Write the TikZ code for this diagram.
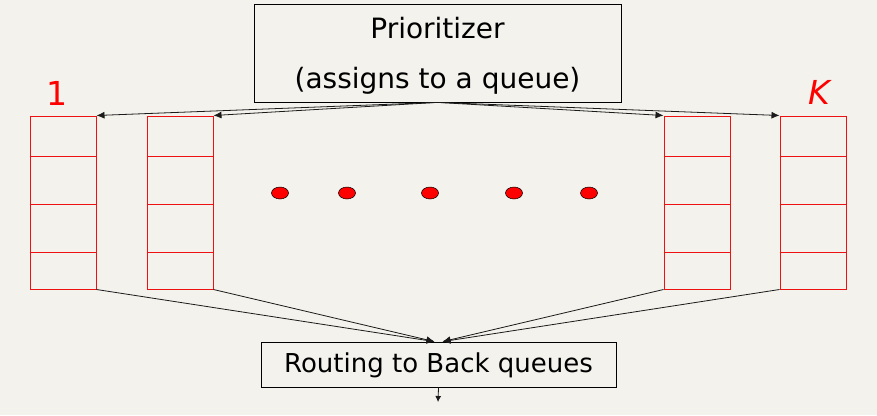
\documentclass[tikz,border=0pt]{standalone}
\usepackage{fontspec}
\setmainfont{DejaVu Sans}
\usetikzlibrary{arrows.meta,shapes.geometric}
\definecolor{paper}{HTML}{F3F2EC}
\definecolor{qred}{HTML}{EE1111}
\definecolor{ink}{HTML}{1A1A1A}
\tikzset{
  textbox/.style={draw=black,line width=0.8pt,inner sep=0pt,align=center},
  queuebox/.style={draw=qred,line width=1pt,minimum width=66pt,minimum height=173pt,inner sep=0pt},
  cellline/.style={draw=qred,line width=1pt},
  qdot/.style={ellipse,draw=black,fill=red,line width=0.5pt,minimum width=17pt,minimum height=12pt,inner sep=0pt},
  qlabel/.style={text=red,font=\fontsize{33}{33}\selectfont,anchor=base,inner sep=0pt},
  feedarrow/.style={-{Latex[length=8pt,width=7pt]},line width=0.8pt,draw=ink}
}
\begin{document}
\begin{tikzpicture}[x=1pt,y=-1pt]
\fill[paper] (0,0) rectangle (877,415);
\useasboundingbox (0,0) rectangle (877,415);
\node[textbox,minimum width=367pt,minimum height=98pt,font=\fontsize{28}{34}\selectfont] (prio) at (437.5,53) {\rule{0pt}{27pt}Prioritizer\\[16pt](assigns to a queue)};
\node[textbox,minimum width=355pt,minimum height=45pt,font=\fontsize{26}{32}\selectfont] (route) at (438.5,364.5) {\rule{0pt}{22pt}Routing to Back queues};
% the queues
\node[queuebox] (q1) at (63,202.5) {};
\node[queuebox] (q2) at (180,202.5) {};
\node[queuebox] (q3) at (697,202.5) {};
\node[queuebox] (qk) at (813,202.5) {};
\foreach \q in {q1,q2,q3,qk}
  \foreach \d in {41,89,137}
    \draw[cellline] ([yshift=-\d pt]\q.north west) -- ([yshift=-\d pt]\q.north east);
\node[qlabel] (lab1) at (57,105) {1};
\node[qlabel] (labk) at (819,104) {\itshape K};
\node[qdot] (d1) at (280,193) {};
\node[qdot] (d2) at (347,193) {};
\node[qdot] (d3) at (430,193) {};
\node[qdot] (d4) at (514,193) {};
\node[qdot] (d5) at (589,193) {};
% in and out
\draw[feedarrow] (prio.south) -- (q1.north east);
\draw[feedarrow] (prio.south) -- (q2.north east);
\draw[feedarrow] (prio.south) -- (q3.north west);
\draw[feedarrow] (prio.south) -- (qk.north west);
\draw[feedarrow] (q1.south east) -- ([xshift=-4pt]route.north);
\draw[feedarrow] (q2.south east) -- ([xshift=-4pt]route.north);
\draw[feedarrow] (q3.south west) -- ([xshift=4pt]route.north);
\draw[feedarrow] (qk.south west) -- ([xshift=4pt]route.north);
\coordinate (out) at (438,402);
\draw[feedarrow,-{Latex[length=6pt,width=6pt]}] (route.south) -- (out);
\end{tikzpicture}
\end{document}
